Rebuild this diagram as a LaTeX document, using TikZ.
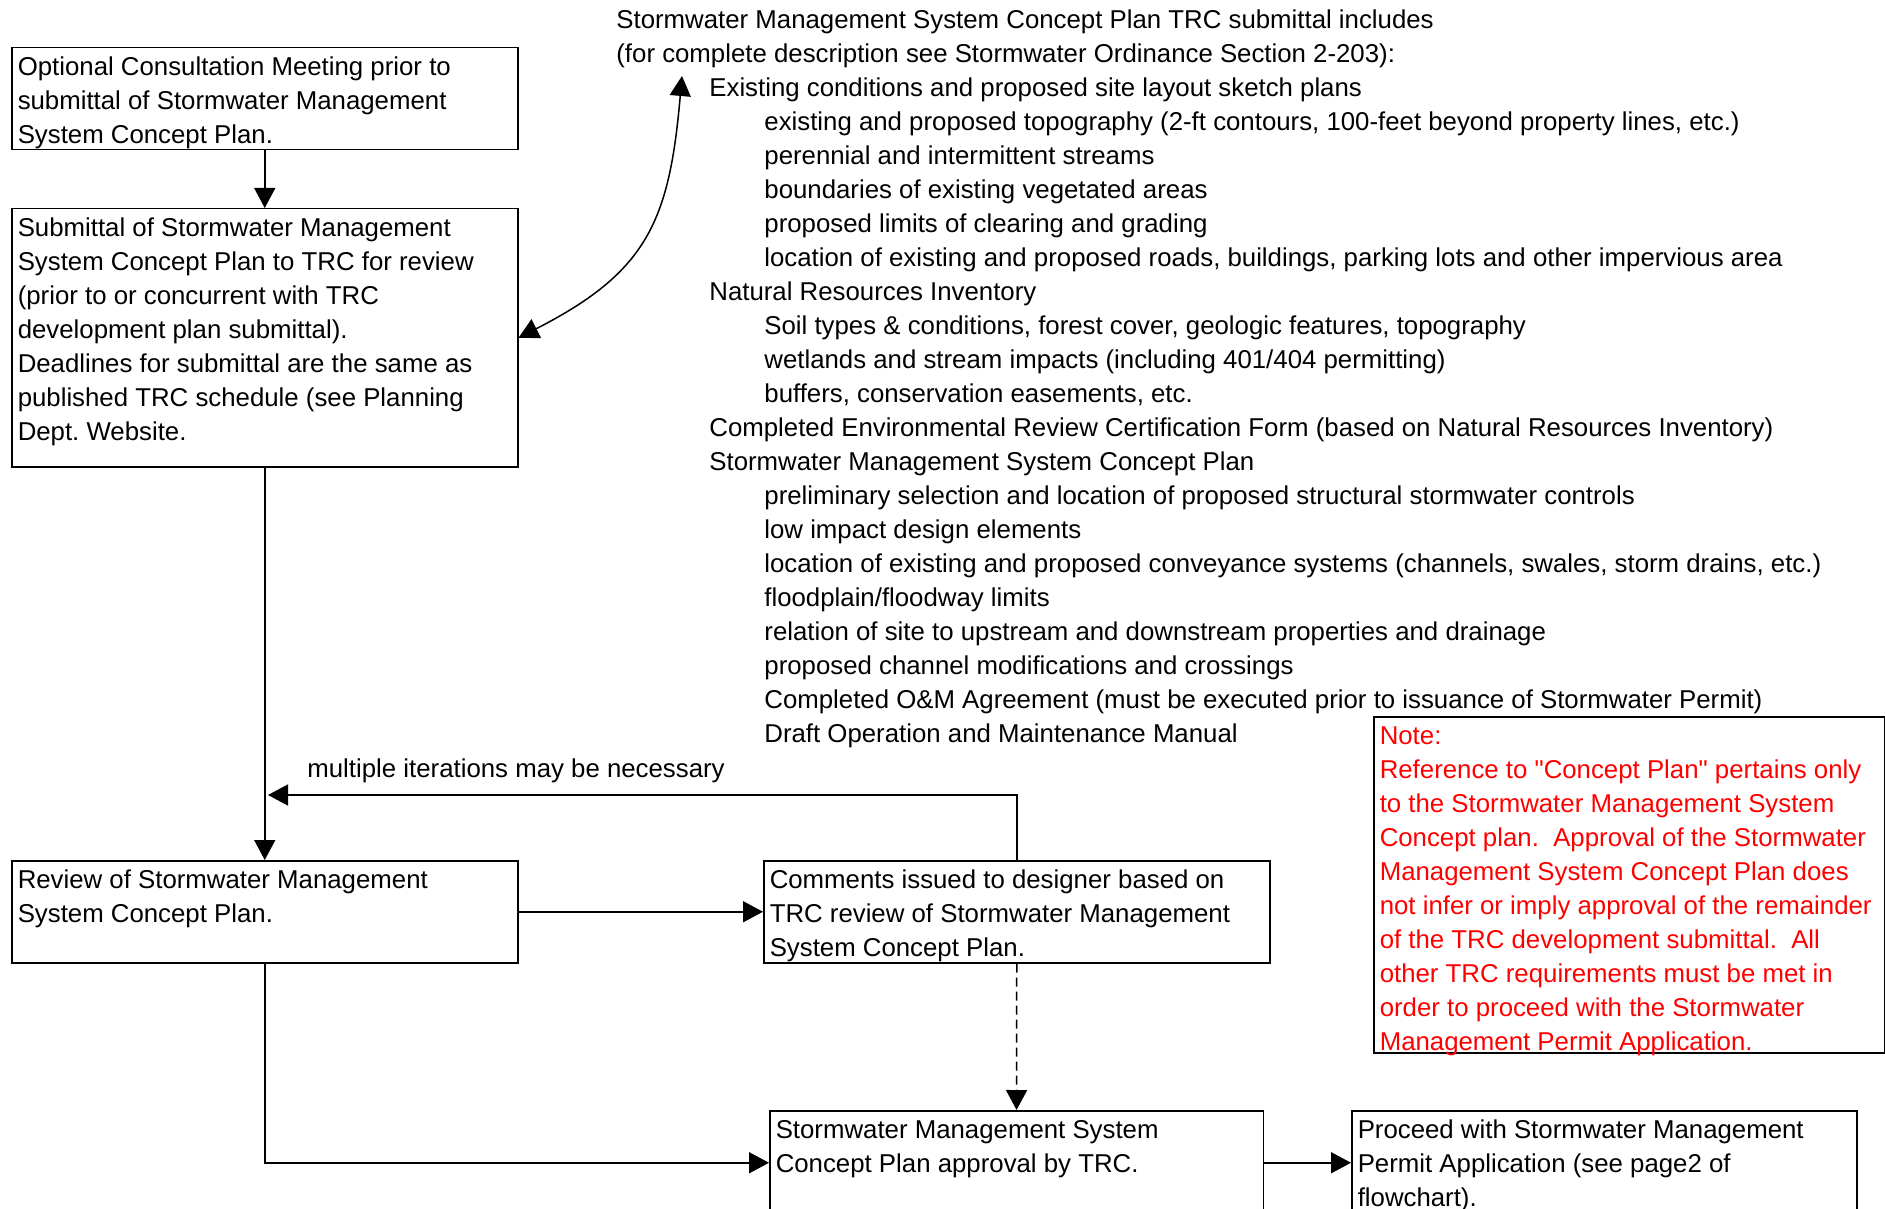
\documentclass[tikz,border=0pt]{standalone}
\usepackage{fontspec}
\setmainfont{Liberation Sans}
\usetikzlibrary{arrows.meta}
\definecolor{notered}{HTML}{FF0000}
\newcommand{\boxtext}[3]{\parbox[t][#1][t]{#2}{\raggedright\strut #3}}
\tikzset{
  >={Triangle[length=10pt,width=10.5pt]},
  stepbox/.style={draw, line width=0.75pt, anchor=north west, inner xsep=3pt, inner ysep=2pt},
  arr/.style={->, line width=0.75pt}
}

\begin{document}
\begin{tikzpicture}[x=0.5pt,y=0.5pt,font=\fontsize{12.9}{17}\selectfont] %one unit is one pixel of the 1885x1209 sheet
\useasboundingbox (0,0) rectangle (1885,-1209);
\clip (0,0) rectangle (1885,-1209); %the two bottom boxes run off the sheet
\node[stepbox] (opt) at (11,-47) {\boxtext{47pt}{247pt}{Optional Consultation Meeting prior to\\submittal of Stormwater Management\\System Concept Plan.}};
\node[stepbox] (sub) at (11,-208) {\boxtext{125pt}{247pt}{Submittal of Stormwater Management\\System Concept Plan to TRC for review\\(prior to or concurrent with TRC\\development plan submittal).\\Deadlines for submittal are the same as\\published TRC schedule (see Planning\\Dept.\ Website.}};
\node[stepbox] (rev) at (11,-860) {\boxtext{47pt}{247pt}{Review of Stormwater Management\\System Concept Plan.}};
\node[stepbox] (com) at (763,-860) {\boxtext{47pt}{247pt}{Comments issued to designer based on\\TRC review of Stormwater Management\\System Concept Plan.}};
\node[stepbox] (app) at (769,-1110) {\boxtext{48pt}{240.8pt}{Stormwater Management System\\Concept Plan approval by TRC.}};
\node[stepbox] (pro) at (1351,-1110) {\boxtext{48pt}{246.5pt}{Proceed with Stormwater Management\\Permit Application (see page2 of\\flowchart).}};
\node[stepbox, text=notered] (note) at (1373,-716) {\boxtext{164pt}{249.5pt}{Note:\\Reference to \textquotedbl Concept Plan\textquotedbl\ pertains only\\to the Stormwater Management System\\Concept plan.\ \ Approval of the Stormwater\\Management System Concept Plan does\\not infer or imply approval of the remainder\\of the TRC development submittal.\ \ All\\other TRC requirements must be met in\\order to proceed with the Stormwater\\Management Permit Application.}};
%list of what the submittal includes
\node[anchor=north west, inner sep=0pt, align=left] (reqs) at (616,-4.5) {\strut Stormwater Management System Concept Plan TRC submittal includes\\
(for complete description see Stormwater Ordinance Section 2-203):\\
\hspace*{46.5pt}Existing conditions and proposed site layout sketch plans\\
\hspace*{74pt}existing and proposed topography (2-ft contours, 100-feet beyond property lines, etc.)\\
\hspace*{74pt}perennial and intermittent streams\\
\hspace*{74pt}boundaries of existing vegetated areas\\
\hspace*{74pt}proposed limits of clearing and grading\\
\hspace*{74pt}location of existing and proposed roads, buildings, parking lots and other impervious area\\
\hspace*{46.5pt}Natural Resources Inventory\\
\hspace*{74pt}Soil types \& conditions, forest cover, geologic features, topography\\
\hspace*{74pt}wetlands and stream impacts (including 401/404 permitting)\\
\hspace*{74pt}buffers, conservation easements, etc.\\
\hspace*{46.5pt}Completed Environmental Review Certification Form (based on Natural Resources Inventory)\\
\hspace*{46.5pt}Stormwater Management System Concept Plan\\
\hspace*{74pt}preliminary selection and location of proposed structural stormwater controls\\
\hspace*{74pt}low impact design elements\\
\hspace*{74pt}location of existing and proposed conveyance systems (channels, swales, storm drains, etc.)\\
\hspace*{74pt}floodplain/floodway limits\\
\hspace*{74pt}relation of site to upstream and downstream properties and drainage\\
\hspace*{74pt}proposed channel modifications and crossings\\
\hspace*{74pt}Completed O\&M Agreement (must be executed prior to issuance of Stormwater Permit)\\
\hspace*{74pt}Draft Operation and Maintenance Manual};
\node[anchor=base west, inner sep=0pt] (iter) at (307,-777) {multiple iterations may be necessary};
\coordinate (incl) at (682,-76); %tip under the list heading
\coordinate (back) at (268,-795); %tip of the loop back onto the main line
%connectors
\draw[arr] (opt) -- (sub);
\draw[arr] (sub) -- (rev);
\draw[<->, line width=0.75pt] (sub.east) to[out=27,in=-95,looseness=1.2] (incl);
\draw[arr] (rev) -- (com);
\draw[arr] (com.north) |- (back);
\draw[arr, dash pattern=on 4.5pt off 2.5pt] (com.south) -- (app.north);
\draw[arr] (rev.south) |- (app.west);
\draw[arr] (app) -- (pro);
\end{tikzpicture}
\end{document}
